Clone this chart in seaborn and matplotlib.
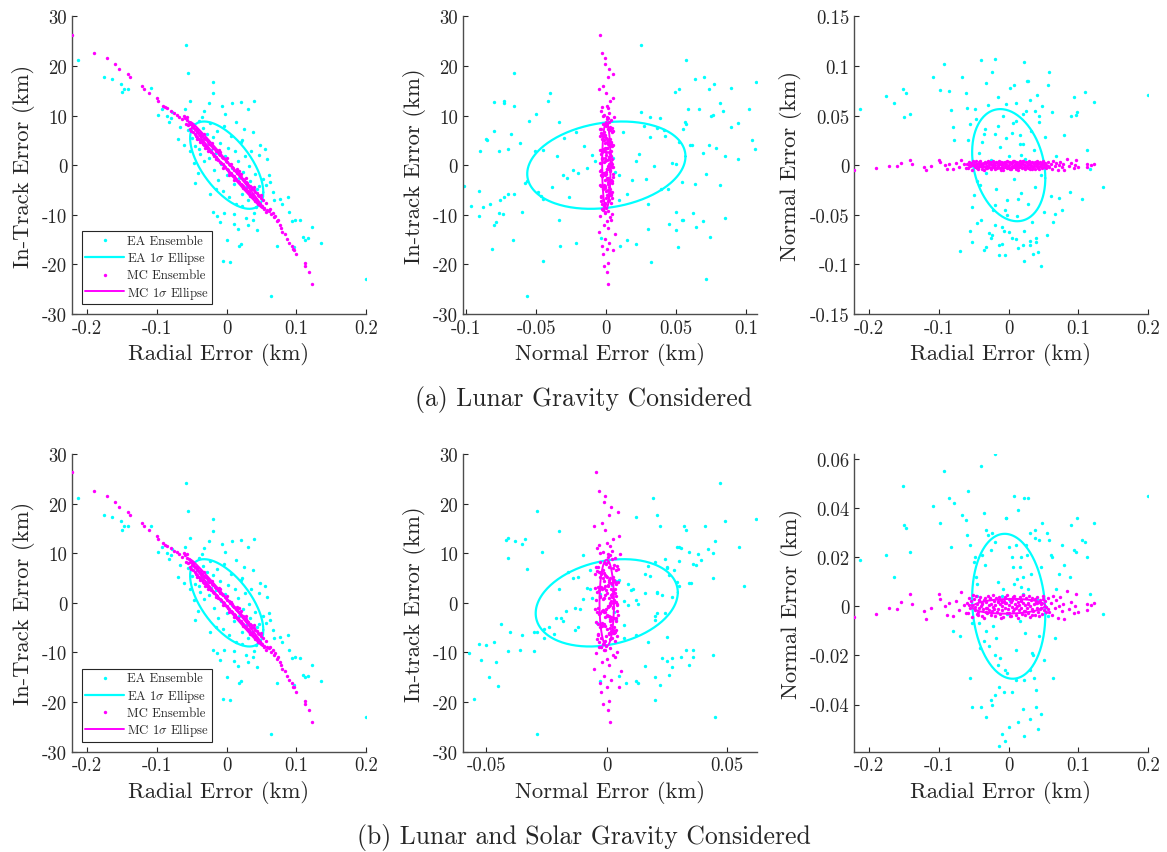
import numpy as np
import matplotlib
matplotlib.use("Agg")
import matplotlib.pyplot as plt
import seaborn as sns
from matplotlib.ticker import FixedLocator, FuncFormatter

# ---------------- data ----------------
# EA ensemble: radial / in-track shared by both rows, normal differs per row
ea_radial = [
    -0.214, -0.176, -0.164, -0.152, -0.150, -0.147, -0.141, -0.108, -0.093, -0.098,
    -0.085, -0.083, -0.080, -0.078, -0.067, -0.062, -0.059, -0.055, -0.052, -0.060,
    -0.019, -0.020, -0.025, -0.007, 0.007, 0.020, 0.039, 0.030, -0.002, -0.032,
    -0.055, -0.050, -0.048, -0.045, -0.043, -0.040, -0.038, -0.036, -0.034, -0.032,
    -0.030, -0.028, -0.026, -0.024, -0.022, -0.020, -0.018, -0.016, -0.014, -0.012,
    -0.010, -0.008, -0.006, -0.004, -0.002, 0.000, 0.002, 0.004, 0.006, 0.008,
    0.010, 0.012, 0.014, 0.016, 0.018, 0.020, 0.022, 0.024, 0.026, 0.028,
    0.030, 0.032, 0.034, 0.036, 0.038, 0.040, 0.042, 0.044, 0.046, 0.048,
    0.050, 0.052, 0.055, 0.057, -0.053, -0.047, -0.041, -0.015, 0.013, 0.025,
    0.060, 0.062, 0.067, 0.068, 0.076, 0.080, 0.088, 0.090, 0.094, 0.098,
    0.105, 0.110, 0.113, 0.116, 0.123, 0.136, 0.200, 0.063, 0.072, 0.096,
    0.017, 0.020, -0.006, 0.005, 0.000, -0.010, 0.010, 0.016, 0.031, 0.038,
    -0.019, -0.014, -0.004, 0.010, 0.022, 0.028, 0.039, -0.033, 0.044, -0.024,
    -0.040, 0.022, 0.047, -0.070, 0.058, -0.045, 0.035, -0.036,
]
ea_intrack = [
    21.2, 17.8, 17.3, 16.4, 14.7, 15.4, 15.4, 15.5, 11.3, 10.2,
    10.0, 8.8, 9.6, 10.8, 7.6, 4.0, 24.2, 18.6, 13.0, 11.3,
    16.8, 14.5, 12.5, 11.9, 12.5, 12.7, 12.9, 11.3, 10.3, 11.0,
    7.0, 5.5, 8.2, 3.8, 6.6, 9.0, 2.2, 5.0, 7.4, 0.8,
    4.1, 6.3, 1.5, 8.5, 3.0, 5.6, -1.0, 2.5, 6.9, -3.0,
    4.4, 0.3, -5.2, 7.9, 1.8, -2.0, 3.5, -6.5, 5.9, -0.5,
    -3.7, 2.8, -7.8, 0.9, -2.6, 4.6, -5.8, -1.3, 1.9, -4.4,
    -7.0, -0.2, -3.1, -5.9, 6.6, -1.8, -8.4, -4.9, 2.0, 4.0,
    -6.3, -2.7, 3.3, -4.0, 2.8, 0.5, -1.6, -4.8, 8.7, 7.2,
    -2.0, -3.4, -5.5, -7.0, -6.8, -7.8, -6.5, -9.5, -11.2, -11.0,
    -11.1, -14.5, -15.0, -14.7, -12.5, -15.7, -23.0, -26.4, -16.2, -16.5,
    -16.2, -15.8, -19.3, -19.5, -15.0, -11.5, -11.8, -12.8, -12.0, -11.0,
    -9.5, -10.2, -9.6, -9.8, -8.2, -10.6, -9.7, -16.8, -13.0, -5.8,
    3.3, 5.0, -4.3, 5.2, 1.2, -3.5, 2.8, 9.8,
]
ea_normal_a = [
    0.057, 0.070, 0.063, 0.077, 0.049, 0.073, 0.052, 0.089, 0.102, 0.076,
    0.075, 0.056, 0.038, 0.025, 0.089, 0.073, 0.025, -0.066, -0.042, 0.058,
    0.107, -0.040, -0.073, -0.066, 0.081, -0.080, -0.073, 0.066, -0.050, 0.083,
    0.041, -0.030, 0.057, -0.016, 0.012, -0.055, 0.023, -0.085, 0.036, -0.008,
    0.061, -0.068, 0.005, 0.094, -0.045, 0.031, -0.024, 0.069, -0.080, 0.018,
    -0.062, 0.050, -0.091, 0.027, -0.035, 0.009, 0.078, -0.073, 0.042, -0.014,
    0.063, -0.051, -0.083, 0.021, -0.028, 0.052, -0.066, 0.006, 0.085, -0.039,
    -0.076, 0.034, -0.057, 0.015, -0.022, 0.071, -0.088, 0.044, -0.010, 0.060,
    -0.047, 0.028, -0.070, 0.081, -0.077, 0.047, -0.020, 0.039, -0.034, 0.055,
    -0.031, 0.054, -0.049, 0.009, -0.045, 0.030, -0.027, 0.050, 0.069, 0.054,
    -0.034, 0.074, 0.015, -0.004, 0.064, -0.022, 0.071, -0.057, -0.033, 0.051,
    0.010, 0.021, -0.045, 0.032, -0.067, -0.079, 0.045, 0.030, -0.080, 0.055,
    -0.060, -0.091, 0.062, -0.074, -0.097, 0.085, -0.077, -0.082, 0.050, -0.070,
    0.106, 0.104, -0.102, -0.086, 0.094, -0.058, -0.090, 0.031,
]
ea_normal_b = [
    0.019, 0.021, 0.012, 0.049, 0.033, 0.032, 0.022, 0.041, 0.055, 0.034,
    0.044, 0.024, -0.010, 0.042, 0.037, 0.035, 0.047, -0.029, -0.041, 0.029,
    0.062, -0.020, -0.038, -0.035, 0.045, -0.042, -0.034, 0.030, -0.027, 0.031,
    0.025, 0.018, 0.020, 0.009, -0.007, -0.041, 0.021, -0.014, 0.017, -0.010,
    0.029, -0.016, 0.023, 0.030, -0.008, 0.026, -0.013, 0.010, -0.033, -0.021,
    0.004, 0.007, -0.026, 0.036, -0.003, 0.024, 0.002, -0.035, 0.016, 0.009,
    -0.018, 0.011, -0.047, -0.006, 0.020, 0.005, -0.030, -0.011, 0.021, 0.007,
    -0.026, 0.013, -0.019, -0.029, 0.028, 0.003, -0.050, -0.012, 0.016, 0.034,
    -0.022, 0.000, 0.030, -0.004, -0.007, 0.012, -0.017, -0.024, 0.039, 0.025,
    0.021, 0.020, -0.013, 0.007, 0.025, 0.017, 0.012, 0.033, 0.023, 0.036,
    0.027, 0.026, 0.020, 0.005, 0.034, -0.003, 0.045, -0.029, 0.013, 0.022,
    0.008, 0.012, -0.055, 0.020, -0.049, -0.052, 0.025, 0.016, -0.046, 0.031,
    -0.036, -0.057, 0.036, -0.030, -0.053, 0.044, -0.041, -0.045, 0.027, -0.040,
    0.057, 0.044, -0.044, -0.012, 0.027, 0.004, -0.020, 0.038,
]

# MC ensemble (same in both rows)
mc_radial = [
    -0.222, -0.190, -0.172, -0.160, -0.155, -0.142, -0.139, -0.122, -0.118, -0.112,
    -0.100, -0.099, -0.092, -0.088, -0.085, -0.080, -0.076, -0.072, -0.068, -0.064,
    -0.060, -0.058, -0.057, -0.055, -0.054, -0.053, -0.052, -0.050, -0.049, -0.048,
    -0.047, -0.046, -0.045, -0.044, -0.043, -0.042, -0.041, -0.040, -0.039, -0.038,
    -0.037, -0.036, -0.035, -0.034, -0.033, -0.032, -0.031, -0.030, -0.029, -0.028,
    -0.027, -0.026, -0.025, -0.024, -0.023, -0.022, -0.021, -0.020, -0.019, -0.018,
    -0.017, -0.016, -0.015, -0.014, -0.013, -0.012, -0.011, -0.010, -0.009, -0.008,
    -0.007, -0.006, -0.005, -0.004, -0.003, -0.002, -0.001, 0.000, 0.001, 0.002,
    0.003, 0.004, 0.005, 0.006, 0.007, 0.008, 0.009, 0.010, 0.011, 0.012,
    0.013, 0.014, 0.015, 0.016, 0.017, 0.018, 0.019, 0.020, 0.021, 0.022,
    0.023, 0.024, 0.025, 0.026, 0.027, 0.028, 0.029, 0.030, 0.031, 0.032,
    0.033, 0.034, 0.035, 0.036, 0.037, 0.038, 0.039, 0.040, 0.041, 0.042,
    0.043, 0.044, 0.045, 0.046, 0.047, 0.048, 0.049, 0.050, 0.052, 0.054,
    0.056, 0.058,
    0.060, 0.062, 0.064, 0.066, 0.068, 0.070, 0.072, 0.074, 0.076, 0.078,
    0.080, 0.083, 0.086, 0.090, 0.093, 0.095, 0.097, 0.100, 0.112, 0.112,
    0.118, 0.123,
    -0.051, -0.044, -0.039, -0.033, -0.027, -0.021, -0.015, -0.011, -0.005, 0.001,
    0.006, 0.011, 0.017, 0.023, 0.027, 0.033, 0.039, 0.045, 0.049, 0.053,
    -0.057, -0.062, -0.009, 0.003, 0.015, -0.031, 0.021, 0.041, -0.043, 0.057,
]
mc_intrack = [
    26.3, 22.6, 21.5, 20.4, 19.3, 18.4, 17.8, 16.0, 15.4, 14.6,
    13.5, 12.9, 12.0, 11.7, 11.5, 11.0, 10.5, 10.2, 9.8, 9.3,
    9.6, 8.3, 9.1, 8.0, 8.8, 7.2, 8.3, 7.6, 6.6, 7.8,
    7.5, 6.2, 7.3, 5.8, 7.1, 5.6, 6.7, 5.2, 6.4, 5.0,
    6.1, 4.6, 5.9, 4.3, 5.5, 4.0, 5.3, 3.8, 5.0, 3.4,
    4.7, 3.1, 4.3, 2.8, 4.1, 2.6, 3.8, 2.2, 3.5, 1.9,
    3.2, 1.6, 2.9, 1.3, 2.6, 1.0, 2.3, 0.7, 2.0, 0.5,
    1.7, 0.2, 1.5, -0.1, 1.2, -0.4, 0.9, -0.7, 0.6, -1.0,
    0.3, -1.3, 0.0, -1.6, -0.3, -1.9, -0.6, -2.2, -0.9, -2.5,
    -1.2, -2.8, -1.5, -3.1, -1.8, -3.4, -2.1, -3.7, -2.4, -4.0,
    -2.7, -4.3, -3.0, -4.6, -3.3, -4.9, -3.6, -5.2, -3.9, -5.5,
    -4.2, -5.8, -4.5, -6.1, -4.8, -6.4, -5.1, -6.7, -5.4, -7.0,
    -5.7, -7.3, -6.0, -7.6, -6.3, -7.9, -6.6, -8.2, -7.1, -8.6,
    -7.6, -9.0,
    -9.2, -8.8, -9.9, -9.6, -10.5, -10.2, -11.3, -11.0, -12.0, -12.6,
    -13.4, -13.8, -14.8, -15.6, -16.2, -16.9, -17.0, -18.0, -19.7, -20.3,
    -21.5, -24.0,
    6.9, 7.3, 4.6, 6.2, 2.8, 4.4, 1.2, 3.0, -0.5, 1.4,
    0.2, -2.9, -1.1, -4.6, -2.6, -6.2, -4.4, -7.8, -6.0, -8.9,
    9.8, 10.0, 2.7, -1.9, -0.8, 3.4, -1.7, -7.2, 5.2, -9.5,
]
mc_normal = [
    -0.0045, -0.0032, -0.0008, -0.0011, 0.0017, 0.0048, 0.0009, -0.0021, -0.0052, -0.0006,
    0.0051, 0.0028, 0.0003, -0.0034, 0.0012, -0.0041, 0.0022, -0.0015, 0.0057, 0.0007,
    0.0013, -0.0027, 0.0035, -0.0009, 0.0021, -0.0044, 0.0006, 0.0029, -0.0016, -0.0003,
    0.0042, -0.0031, 0.0010, -0.0022, 0.0026, -0.0008, 0.0037, 0.0002, -0.0039, 0.0015,
    -0.0012, 0.0024, -0.0048, 0.0033, -0.0005, 0.0018, -0.0029, 0.0040, -0.0014, 0.0007,
    0.0030, -0.0036, 0.0011, -0.0019, 0.0046, -0.0002, 0.0023, -0.0041, 0.0004, 0.0034,
    -0.0025, 0.0016, -0.0010, 0.0039, -0.0033, 0.0008, 0.0027, -0.0017, 0.0001, -0.0045,
    0.0020, 0.0036, -0.0007, 0.0012, -0.0028, 0.0044, -0.0013, 0.0005, 0.0031, -0.0038,
    0.0017, -0.0004, 0.0025, -0.0021, 0.0041, -0.0011, 0.0009, -0.0034, 0.0028, 0.0003,
    -0.0047, 0.0019, -0.0015, 0.0037, -0.0006, 0.0022, -0.0030, 0.0014, 0.0045, -0.0020,
    0.0006, -0.0037, 0.0032, -0.0009, 0.0015, -0.0026, 0.0040, 0.0000, -0.0043, 0.0024,
    -0.0012, 0.0035, -0.0018, 0.0008, 0.0029, -0.0035, 0.0013, -0.0005, 0.0038, -0.0024,
    0.0018, -0.0040, 0.0027, -0.0008, 0.0011, -0.0031, 0.0043, -0.0016, 0.0021, -0.0002,
    0.0033, -0.0023,
    0.0012, -0.0034, 0.0043, -0.0008, 0.0024, -0.0046, 0.0003, 0.0036, -0.0019, 0.0009,
    -0.0052, 0.0061, -0.0011, 0.0018, -0.0029, 0.0002, 0.0049, -0.0023, 0.0011, -0.0017,
    0.0004, 0.0013,
    0.0045, -0.0035, 0.0008, -0.0025, 0.0033, -0.0012, 0.0021, -0.0048, 0.0014, -0.0029,
    0.0039, -0.0007, 0.0026, -0.0018, 0.0009, -0.0036, 0.0017, -0.0011, 0.0031, -0.0024,
    0.0005, -0.0027, 0.0018, -0.0041, 0.0006, -0.0009, 0.0044, 0.0012, 0.0027, -0.0013,
]

# 1-sigma statistics used for the ellipses
ea_sigma = {"radial": 0.0525, "intrack": 8.8, "normal_a": 0.0565, "normal_b": 0.0295}
ea_rho = {"rt": -0.62, "nt_a": 0.20, "nt_b": 0.24, "rn_a": -0.23, "rn_b": -0.11}
mc_sigma = {"radial": 0.052, "intrack": 8.7, "normal": 0.003}
mc_rho = {"rt": -0.995, "nt": 0.0, "rn": 0.10}

captions = ["(a) Lunar Gravity Considered", "(b) Lunar and Solar Gravity Considered"]

# ---------------- style ----------------
sns.set_theme(style="ticks")
plt.rcParams["font.family"] = ["cmr10", "DejaVu Serif"]
plt.rcParams["mathtext.fontset"] = "cm"
plt.rcParams["axes.unicode_minus"] = False
plt.rcParams["axes.formatter.use_mathtext"] = True

CYAN = "#00FFFF"
MAGENTA = "#FF00FF"
TXT = "#262626"
AXC = "#4d4d4d"


def ellipse_xy(sx, sy, rho):
    th = np.linspace(0, 2 * np.pi, 241)
    x = sx * np.cos(th)
    y = sy * (rho * np.cos(th) + np.sqrt(1 - rho ** 2) * np.sin(th))
    return x, y


fmt = FuncFormatter(lambda v, p: f"{(round(v, 10) + 0.0):g}")

fig = plt.figure(figsize=(11.67, 8.53), dpi=100)
lefts = [0.0617, 0.3967, 0.7318]
bottoms = [0.6307, 0.1176]
W, H = 0.252, 0.349

for row in range(2):
    na = ea_normal_a if row == 0 else ea_normal_b
    sn = ea_sigma["normal_a"] if row == 0 else ea_sigma["normal_b"]
    rnt = ea_rho["nt_a"] if row == 0 else ea_rho["nt_b"]
    rrn = ea_rho["rn_a"] if row == 0 else ea_rho["rn_b"]
    panels = [
        dict(ex=ea_radial, ey=ea_intrack, esx=ea_sigma["radial"], esy=ea_sigma["intrack"], er=ea_rho["rt"],
             mx=mc_radial, my=mc_intrack, msx=mc_sigma["radial"], msy=mc_sigma["intrack"], mr=mc_rho["rt"],
             xl="Radial Error (km)", yl="In-Track Error (km)",
             xlim=(-0.222, 0.2), ylim=(-30, 30),
             xt=[-0.2, -0.1, 0, 0.1, 0.2], yt=[-30, -20, -10, 0, 10, 20, 30]),
        dict(ex=na, ey=ea_intrack, esx=sn, esy=ea_sigma["intrack"], er=rnt,
             mx=mc_normal, my=mc_intrack, msx=mc_sigma["normal"], msy=mc_sigma["intrack"], mr=mc_rho["nt"],
             xl="Normal Error (km)", yl="In-track Error (km)",
             xlim=(-0.1024, 0.1076) if row == 0 else (-0.0597, 0.0624), ylim=(-30, 30),
             xt=[-0.1, -0.05, 0, 0.05, 0.1] if row == 0 else [-0.05, 0, 0.05],
             yt=[-30, -20, -10, 0, 10, 20, 30]),
        dict(ex=ea_radial, ey=na, esx=ea_sigma["radial"], esy=sn, er=rrn,
             mx=mc_radial, my=mc_normal, msx=mc_sigma["radial"], msy=mc_sigma["normal"], mr=mc_rho["rn"],
             xl="Radial Error (km)", yl="Normal Error (km)",
             xlim=(-0.222, 0.2), ylim=(-0.15, 0.15) if row == 0 else (-0.0592, 0.062),
             xt=[-0.2, -0.1, 0, 0.1, 0.2],
             yt=[-0.15, -0.1, -0.05, 0, 0.05, 0.1, 0.15] if row == 0 else [-0.04, -0.02, 0, 0.02, 0.04, 0.06]),
    ]
    for col, p in enumerate(panels):
        ax = fig.add_axes([lefts[col], bottoms[row], W, H])
        sns.scatterplot(x=p["ex"], y=p["ey"], ax=ax, color=CYAN, s=6, linewidth=0,
                        label="EA Ensemble", zorder=2)
        ex, ey = ellipse_xy(p["esx"], p["esy"], p["er"])
        sns.lineplot(x=ex, y=ey, ax=ax, sort=False, estimator=None, color=CYAN, lw=1.6,
                     label=r"EA 1$\sigma$ Ellipse", zorder=3)
        sns.scatterplot(x=p["mx"], y=p["my"], ax=ax, color=MAGENTA, s=6, linewidth=0,
                        label="MC Ensemble", zorder=4)
        mx, my = ellipse_xy(p["msx"], p["msy"], p["mr"])
        sns.lineplot(x=mx, y=my, ax=ax, sort=False, estimator=None, color=MAGENTA, lw=1.4,
                     label=r"MC 1$\sigma$ Ellipse", zorder=5)
        ax.set_xlim(*p["xlim"])
        ax.set_ylim(*p["ylim"])
        ax.xaxis.set_major_locator(FixedLocator(p["xt"]))
        ax.yaxis.set_major_locator(FixedLocator(p["yt"]))
        ax.xaxis.set_major_formatter(fmt)
        ax.yaxis.set_major_formatter(fmt)
        ax.set_xlabel(p["xl"], fontsize=16.3, color=TXT, labelpad=4)
        ax.set_ylabel(p["yl"], fontsize=16.3, color=TXT, labelpad=5)
        ax.tick_params(axis="both", labelsize=13.5, colors=TXT, direction="in",
                       length=3.3, width=0.8, pad=3.5)
        sns.despine(ax=ax)
        for s in ("left", "bottom"):
            ax.spines[s].set_color(AXC)
            ax.spines[s].set_linewidth(1.0)
        ax.set_facecolor("white")
        if col == 0:
            h, l = ax.get_legend_handles_labels()
            leg = ax.legend(h, l, loc="lower left", fontsize=9.2, frameon=True, fancybox=False,
                            edgecolor="#262626", framealpha=1, handlelength=3.0,
                            labelspacing=0.2, borderpad=0.3, handletextpad=0.25,
                            borderaxespad=0.75, markerscale=1.0)
            leg.get_frame().set_linewidth(0.8)
        else:
            lg = ax.get_legend()
            if lg is not None:
                lg.remove()

fig.text(0.5, 1 - 400 / 853, captions[0], ha="center", va="center", fontsize=18.5, color=TXT)
fig.text(0.5, 1 - 838 / 853, captions[1], ha="center", va="center", fontsize=18.5, color=TXT)

fig.savefig("out.png", dpi=100, facecolor="white")
